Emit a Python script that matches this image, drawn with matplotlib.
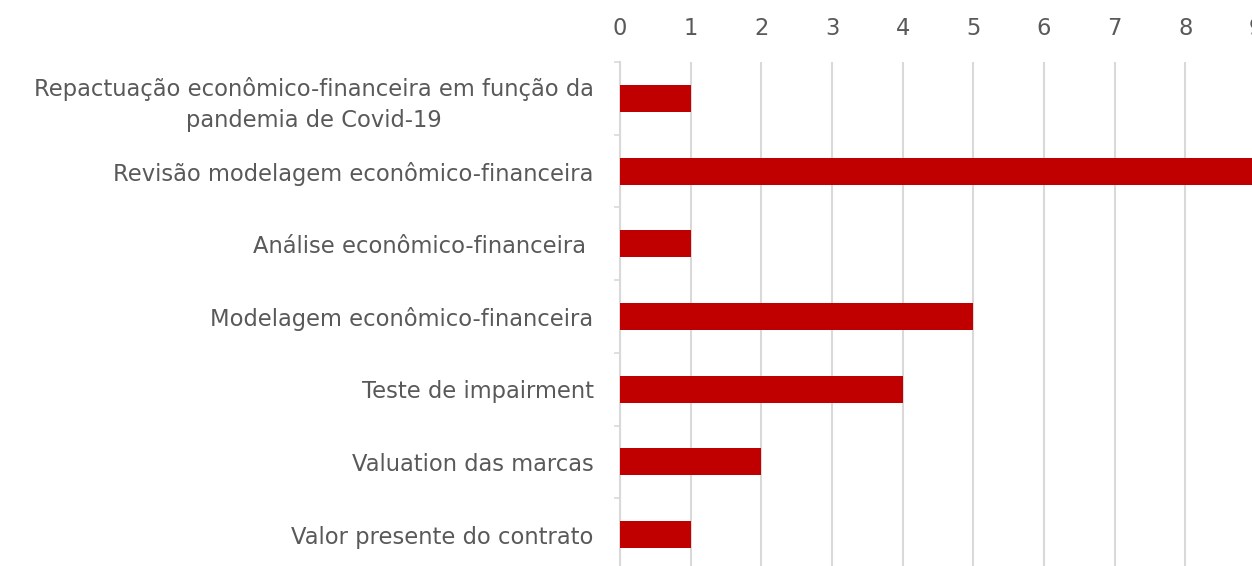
import numpy as np
import matplotlib
matplotlib.use("Agg")
import matplotlib.pyplot as plt

# data, top to bottom as shown
categories = [
    "Repactuação econômico-financeira em função da\npandemia de Covid-19",
    "Revisão modelagem econômico-financeira",
    "Análise econômico-financeira ",
    "Modelagem econômico-financeira",
    "Teste de impairment",
    "Valuation das marcas",
    "Valor presente do contrato",
]
values = [1, 9, 1, 5, 4, 2, 1]
x_ticks = list(range(0, 10))

TEXT = "#595959"
GRID = "#d9d9d9"
BAR = "#C00000"

plt.rcParams["font.family"] = ["DejaVu Sans"]

fig = plt.figure(figsize=(12.52, 5.66), dpi=100)
# axes deliberately run a little past the right/bottom edge (cropped like the source)
ax = fig.add_axes([620 / 1252, 1 - 571 / 566, (1256 - 620) / 1252, (571 - 62) / 566])

y = np.arange(len(categories))
ax.barh(y, values, height=0.37, color=BAR, zorder=3)

ax.set_xlim(0, 9)
ax.set_ylim(len(categories) - 0.5, -0.5)

ax.xaxis.tick_top()
ax.set_xticks(x_ticks)
ax.tick_params(axis="x", length=0, pad=16, labelsize=16.3, labelcolor=TEXT)
ax.grid(axis="x", color=GRID, linewidth=1.5, zorder=0)

ax.set_yticks(y)
ax.set_yticklabels(categories, multialignment="center", linespacing=1.42)
ax.tick_params(axis="y", which="major", length=0, pad=19, labelsize=16.3, labelcolor=TEXT)
ax.set_yticks(np.arange(-0.5, len(categories), 1), minor=True)
ax.tick_params(axis="y", which="minor", length=4.5, width=1.2, color=GRID)

for side in ["top", "right", "bottom"]:
    ax.spines[side].set_visible(False)
ax.spines["left"].set_color(GRID)
ax.spines["left"].set_linewidth(1.5)

fig.savefig("out.png", dpi=100)
